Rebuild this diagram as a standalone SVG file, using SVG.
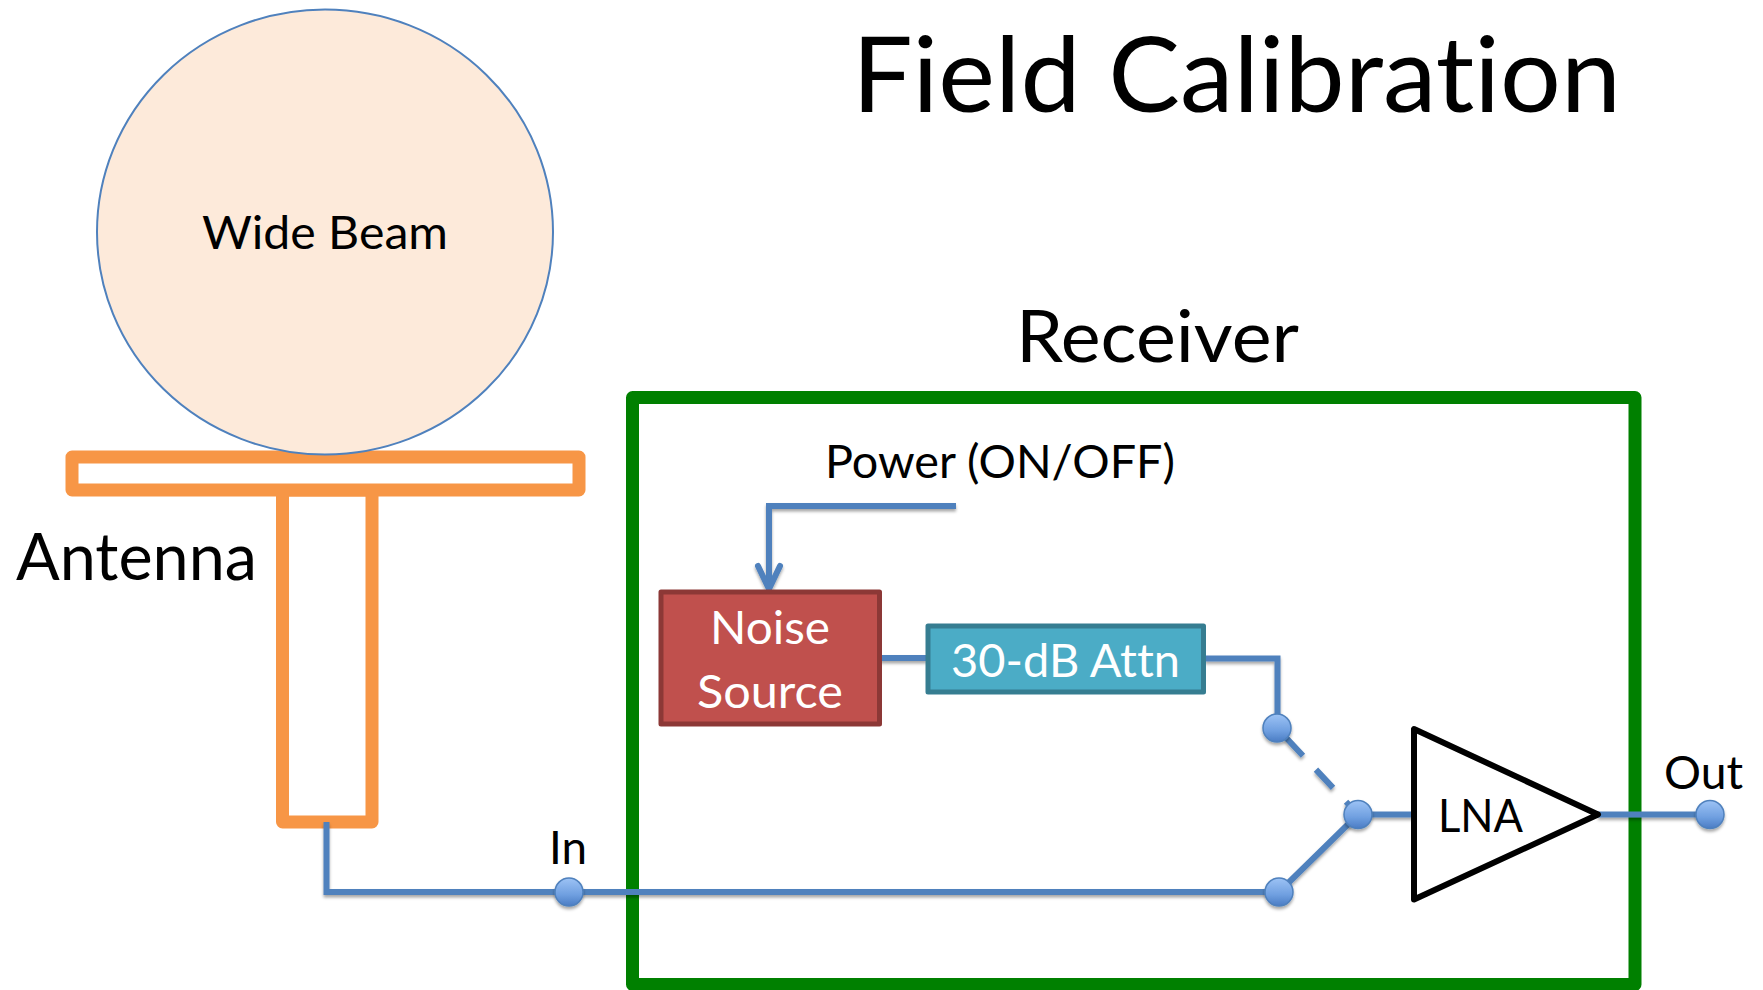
<svg xmlns="http://www.w3.org/2000/svg" width="1763" height="990" viewBox="0 0 1763 990">
<style>
text{font-family:Lato,"Open Sans",sans-serif;fill:#000;font-variant-ligatures:none}
.w{fill:none;stroke:#4f81bd;stroke-width:6;filter:url(#sh)}
.o{fill:#fff;stroke:#f79646;stroke-width:13;stroke-linejoin:round}
.n{fill:url(#g);stroke:#4f81bd;stroke-width:1.5;filter:url(#sh)}
.l{fill:#fff}
</style>
<defs>
<filter id="sh" filterUnits="userSpaceOnUse" x="0" y="0" width="1763" height="990"><feDropShadow dx="0" dy="2.5" stdDeviation="1.5" flood-color="#000" flood-opacity=".35"/></filter>
<linearGradient id="g" x1="0" y1="0" x2="0" y2="1"><stop offset="0" stop-color="#9dc3f5"/><stop offset=".6" stop-color="#6f9fe0"/><stop offset="1" stop-color="#4a7cc4"/></linearGradient>
<marker id="arr" markerUnits="userSpaceOnUse" markerWidth="32" markerHeight="32" refX="28" refY="16" orient="auto" viewBox="0 0 32 32"><path d="M4 5 L27 16 L4 27" fill="none" stroke="#4f81bd" stroke-width="6" stroke-linecap="round"/></marker>
</defs>
<rect width="1763" height="990" fill="#fff"/>
<g id="antenna"><rect class="o" x="282.500" y="490" width="89.500" height="332"/><rect class="o" x="72" y="457" width="507" height="33"/><text x="16" y="580" font-size="66" textLength="241" lengthAdjust="spacingAndGlyphs">Antenna</text></g>
<g id="beam"><ellipse cx="325" cy="232" rx="228" ry="222.500" fill="#fdeada" stroke="#4f81bd" stroke-width="2"/><text x="202" y="249" font-size="47" textLength="246" lengthAdjust="spacingAndGlyphs">Wide Beam</text></g>
<g id="receiver"><rect x="632.500" y="397.500" width="1002.500" height="587" fill="none" stroke="#008000" stroke-width="13" stroke-linejoin="round"/><text x="1016" y="362" font-size="72" textLength="283" lengthAdjust="spacingAndGlyphs">Receiver</text></g>
<g id="title"><text x="852" y="112" font-size="104" textLength="769" lengthAdjust="spacingAndGlyphs">Field Calibration</text></g>
<g id="connectors">
<path class="w" d="M326.500 822V892H1279"/>
<path class="w" d="M956 506H769V590" marker-end="url(#arr)"/>
<path class="w" d="M880 658H927"/>
<path class="w" d="M1205 658.500H1277.500V728"/>
<path class="w" d="M1277 728L1358 814.500" stroke-dasharray="25 19" stroke-dashoffset="-13"/>
<path class="w" d="M1279 892L1358 814.500H1414"/>
<path class="w" d="M1598 814.500H1710"/>
</g>
<g id="noise-source"><rect x="661" y="592" width="218.500" height="132" fill="#c0504d" stroke="#8c3836" stroke-width="5" stroke-linejoin="round"/><text class="l" x="710" y="644" font-size="47" textLength="120" lengthAdjust="spacingAndGlyphs">Noise</text><text class="l" x="697" y="708" font-size="47" textLength="146" lengthAdjust="spacingAndGlyphs">Source</text></g>
<g id="attn"><rect x="928" y="626" width="275.500" height="66" fill="#4bacc6" stroke="#367d91" stroke-width="5" stroke-linejoin="round"/><text class="l" x="951" y="677" font-size="47" textLength="229" lengthAdjust="spacingAndGlyphs">30-dB Attn</text></g>
<g id="lna"><path d="M1414 729V899.500L1598 814.500Z" fill="#fff" stroke="#000" stroke-width="6" stroke-linejoin="round"/><text x="1438" y="832" font-size="47" textLength="85" lengthAdjust="spacingAndGlyphs">LNA</text></g>
<g id="node-a"><circle class="n" cx="1277" cy="728" r="14"/></g>
<g id="node-b"><circle class="n" cx="1358" cy="814.500" r="14"/></g>
<g id="node-c"><circle class="n" cx="1279" cy="892" r="14"/></g>
<g id="node-in"><circle class="n" cx="569" cy="892" r="14"/><text x="549" y="864" font-size="47" textLength="38" lengthAdjust="spacingAndGlyphs">In</text></g>
<g id="node-out"><circle class="n" cx="1710" cy="814.500" r="14"/><text x="1664" y="789" font-size="47" textLength="79" lengthAdjust="spacingAndGlyphs">Out</text></g>
<g id="power"><text x="825" y="478" font-size="47" textLength="350" lengthAdjust="spacingAndGlyphs">Power (ON/OFF)</text></g>
</svg>
